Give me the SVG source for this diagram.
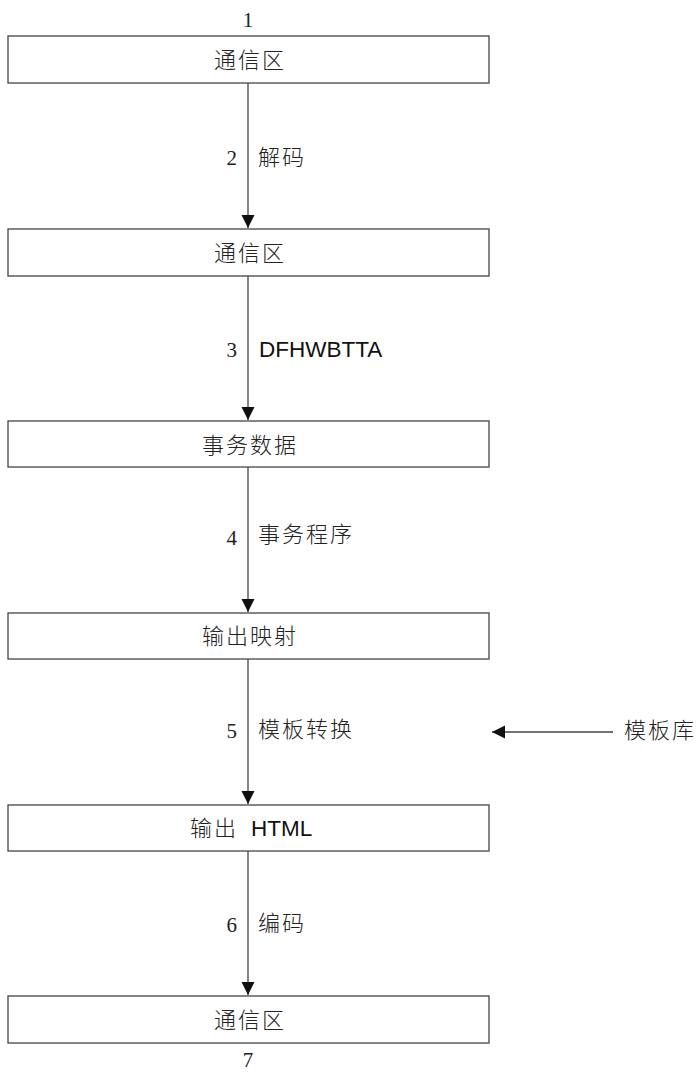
<svg xmlns="http://www.w3.org/2000/svg" width="697" height="1072" viewBox="0 0 697 1072">
<defs>
<marker id="ah" markerWidth="14" markerHeight="14" refX="13" refY="6.5" orient="auto" markerUnits="userSpaceOnUse">
<path d="M0,0 L13,6.5 L0,13 Z" fill="#111"/>
</marker>
<style>
.box{fill:#fff;stroke:#444;stroke-width:1.3}
.cn{font-family:"Noto Sans CJK SC",sans-serif;font-size:22px;letter-spacing:2px;fill:#222;font-weight:300}
.num{font-family:"Liberation Serif",serif;font-size:21px;fill:#222}
.en{font-family:"Liberation Sans",sans-serif;font-size:22.5px;fill:#111}
.ln{stroke:#444;stroke-width:1.3;fill:none}
</style>
</defs>
<g id="connectors">
<line class="ln" x1="248" y1="83" x2="248" y2="228" marker-end="url(#ah)"/>
<line class="ln" x1="248" y1="276" x2="248" y2="420" marker-end="url(#ah)"/>
<line class="ln" x1="248" y1="467" x2="248" y2="612" marker-end="url(#ah)"/>
<line class="ln" x1="248" y1="659" x2="248" y2="804" marker-end="url(#ah)"/>
<line class="ln" x1="248" y1="851" x2="248" y2="995" marker-end="url(#ah)"/>
<line class="ln" x1="613" y1="732" x2="492" y2="732" marker-end="url(#ah)"/>
<text class="num" x="237" y="165" text-anchor="end">2</text>
<text class="cn" x="258" y="165">解码</text>
<text class="num" x="237" y="357" text-anchor="end">3</text>
<text class="en" x="259" y="357">DFHWBTTA</text>
<text class="num" x="237" y="545" text-anchor="end">4</text>
<text class="cn" x="258" y="542">事务程序</text>
<text class="num" x="237" y="738" text-anchor="end">5</text>
<text class="cn" x="258" y="737">模板转换</text>
<text class="num" x="237" y="932" text-anchor="end">6</text>
<text class="cn" x="258" y="931">编码</text>
</g>
<g id="n1">
<text class="num" x="248" y="27" text-anchor="middle">1</text>
<rect class="box" x="8" y="36" width="481" height="47"/>
<text class="cn" x="250" y="68" text-anchor="middle">通信区</text>
</g>
<g id="n2">
<rect class="box" x="8" y="229" width="481" height="47"/>
<text class="cn" x="250" y="261" text-anchor="middle">通信区</text>
</g>
<g id="n3">
<rect class="box" x="8" y="421" width="481" height="46"/>
<text class="cn" x="250" y="453" text-anchor="middle">事务数据</text>
</g>
<g id="n4">
<rect class="box" x="8" y="613" width="481" height="46"/>
<text class="cn" x="250" y="644" text-anchor="middle">输出映射</text>
</g>
<g id="n5">
<rect class="box" x="8" y="805" width="481" height="46"/>
<text class="cn" x="190" y="836">输出</text>
<text class="en" x="251" y="836">HTML</text>
</g>
<g id="n6">
<rect class="box" x="8" y="996" width="481" height="47"/>
<text class="cn" x="250" y="1028" text-anchor="middle">通信区</text>
<text class="num" x="248" y="1067" font-size="20" text-anchor="middle">7</text>
</g>
<g id="n7">
<text class="cn" x="624" y="738">模板库</text>
</g>
</svg>
